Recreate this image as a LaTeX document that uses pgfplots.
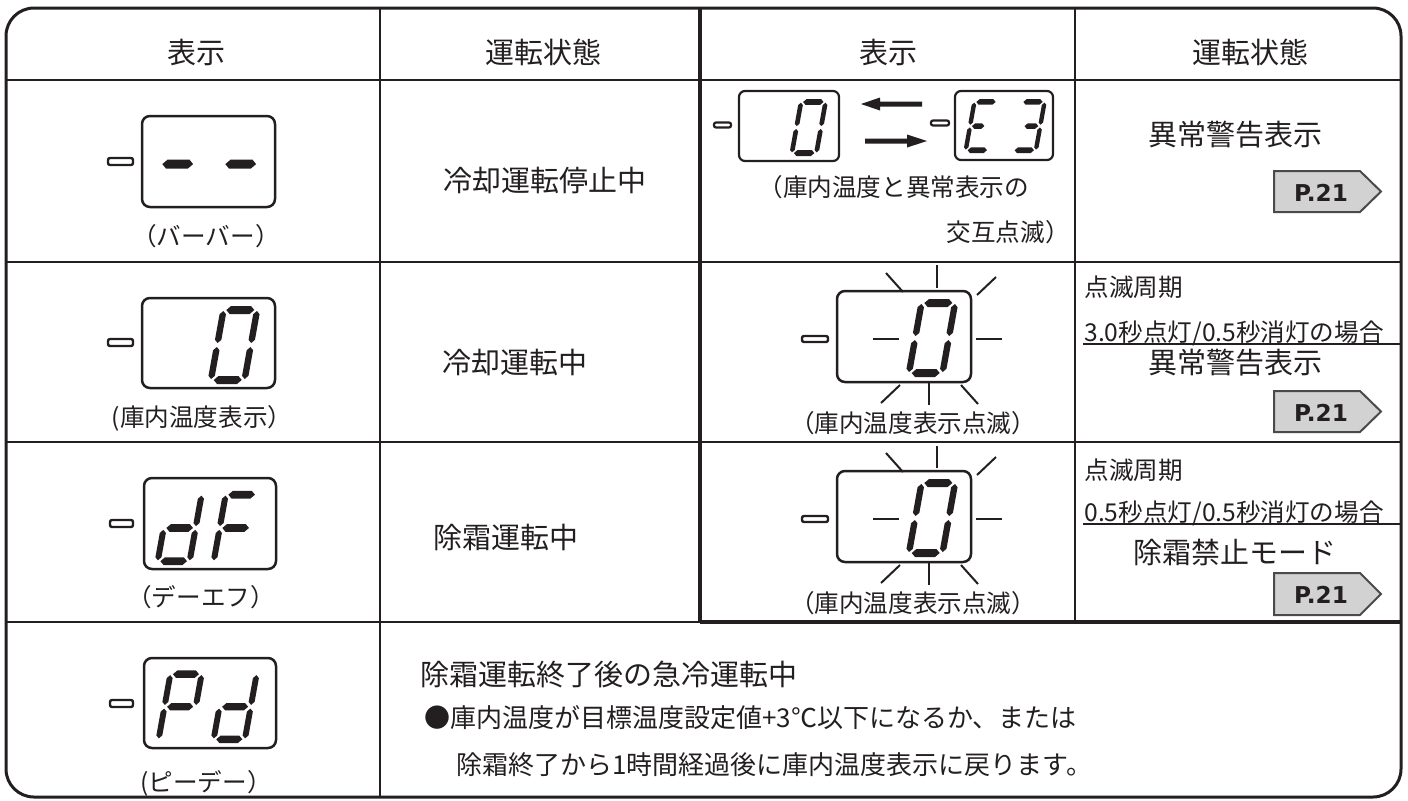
\documentclass[border=0pt]{standalone}
\usepackage{pgfplots}
\pgfplotsset{compat=1.18}
\usepackage{fontspec}
\setmainfont{Noto Sans CJK JP}
\newfontfamily\tagfont{DejaVu Sans}
\definecolor{ink}{HTML}{231F20}
\definecolor{tagfill}{HTML}{D2D2D2}
\definecolor{tagline}{HTML}{4A4A4A}
% point in a slanted seven-segment digit: OX OY S u v
\newcommand\Pt[5]{(axis cs:{#1+#3*((#4)+0.18*(#5))},{#2-#3*(#5)})}
\newcommand\hseg[6]{\fill[ink] \Pt{#1}{#2}{#3}{#4}{#6} -- \Pt{#1}{#2}{#3}{#4+4}{#6+4} -- \Pt{#1}{#2}{#3}{#5-4}{#6+4} -- \Pt{#1}{#2}{#3}{#5}{#6} -- \Pt{#1}{#2}{#3}{#5-4}{#6-4} -- \Pt{#1}{#2}{#3}{#4+4}{#6-4} -- cycle;}
\newcommand\vseg[6]{\fill[ink] \Pt{#1}{#2}{#3}{#4}{#6} -- \Pt{#1}{#2}{#3}{#4+3.2}{#6-3.2} -- \Pt{#1}{#2}{#3}{#4+3.2}{#5+3.2} -- \Pt{#1}{#2}{#3}{#4}{#5} -- \Pt{#1}{#2}{#3}{#4-3.2}{#5+3.2} -- \Pt{#1}{#2}{#3}{#4-3.2}{#6-3.2} -- cycle;}
\newcommand\SA[3]{\hseg{#1}{#2}{#3}{6}{34}{74}}
\newcommand\SB[3]{\vseg{#1}{#2}{#3}{36.8}{41}{73}}
\newcommand\SC[3]{\vseg{#1}{#2}{#3}{36.8}{5}{37}}
\newcommand\SD[3]{\hseg{#1}{#2}{#3}{6}{34}{4}}
\newcommand\SE[3]{\vseg{#1}{#2}{#3}{3.2}{5}{37}}
\newcommand\SF[3]{\vseg{#1}{#2}{#3}{3.2}{41}{73}}
\newcommand\SG[3]{\hseg{#1}{#2}{#3}{6}{34}{39}}
\newcommand\SGh[3]{\hseg{#1}{#2}{#3}{6}{24}{39}}
\newcommand\DZero[3]{\SA{#1}{#2}{#3}\SB{#1}{#2}{#3}\SC{#1}{#2}{#3}\SD{#1}{#2}{#3}\SE{#1}{#2}{#3}\SF{#1}{#2}{#3}}
\newcommand\Dd[3]{\SB{#1}{#2}{#3}\SC{#1}{#2}{#3}\SD{#1}{#2}{#3}\SE{#1}{#2}{#3}\SG{#1}{#2}{#3}}
\newcommand\DF[3]{\SA{#1}{#2}{#3}\SE{#1}{#2}{#3}\SF{#1}{#2}{#3}\SG{#1}{#2}{#3}}
\newcommand\DP[3]{\SA{#1}{#2}{#3}\SB{#1}{#2}{#3}\SE{#1}{#2}{#3}\SF{#1}{#2}{#3}\SG{#1}{#2}{#3}}
\newcommand\DE[3]{\SA{#1}{#2}{#3}\SD{#1}{#2}{#3}\SE{#1}{#2}{#3}\SF{#1}{#2}{#3}\SGh{#1}{#2}{#3}}
\newcommand\DThree[3]{\SA{#1}{#2}{#3}\SB{#1}{#2}{#3}\SC{#1}{#2}{#3}\SD{#1}{#2}{#3}\hseg{#1}{#2}{#3}{14}{34}{39}}
\newcommand\fbig{\fontsize{14.5}{17}\selectfont}
\newcommand\fmid{\fontsize{13}{15}\selectfont}
\newcommand\fsmall{\fontsize{12.3}{14}\selectfont}
\begin{document}
\begin{tikzpicture}
\begin{axis}[width=704pt, height=400pt, scale only axis,
  xmin=0, xmax=1408, ymin=0, ymax=800, y dir=reverse,
  hide axis, clip=false]
\path (axis cs:0,0) rectangle (axis cs:1408,800);
% ---------- grid ----------
\draw[ink, line width=1pt] (6,80) -- (1401,80);
\draw[ink, line width=1pt] (6,262) -- (1401,262);
\draw[ink, line width=1pt] (6,442) -- (1401,442);
\draw[ink, line width=1.1pt] (6,622) -- (700,622);
\draw[ink, line width=1.8pt] (700,622) -- (1401,622);
\draw[ink, line width=1pt] (380,8) -- (380,797);
\draw[ink, line width=1.8pt] (700,8) -- (700,623);
\draw[ink, line width=1pt] (1075,8) -- (1075,622);
\draw[ink, line width=1.5pt, rounded corners=14pt] (6,8) rectangle (1401,797);
% ---------- headers ----------
\node[font=\fbig, text=ink, inner sep=0] at (196,52) {表示};
\node[font=\fbig, text=ink, inner sep=0] at (543,52) {運転状態};
\node[font=\fbig, text=ink, inner sep=0] at (888,52) {表示};
\node[font=\fbig, text=ink, inner sep=0] at (1250,52) {運転状態};
% ---------- column 1 displays ----------
\draw[ink, line width=1.25pt, rounded corners=4pt] (142,116) rectangle (275,207);
\draw[ink, line width=1.2pt, rounded corners=1pt] (108,158) rectangle (133,165);
\SG{148}{207}{1.1}\SG{211}{207}{1.1}
\node[font=\fsmall, text=ink, inner sep=0] at (206,236) {（バーバー）};
\draw[ink, line width=1.25pt, rounded corners=4pt] (142,298) rectangle (275,388);
\draw[ink, line width=1.2pt, rounded corners=1pt] (108,339) rectangle (133,346);
\DZero{207}{384}{1}
\node[font=\fsmall, text=ink, inner sep=0] at (202,418) {(庫内温度表示）};
\draw[ink, line width=1.25pt, rounded corners=4pt] (144,478) rectangle (276,569);
\draw[ink, line width=1.2pt, rounded corners=1pt] (110,520) rectangle (133,527);
\Dd{154}{565}{0.95}\DF{210}{565}{0.95}
\node[font=\fsmall, text=ink, inner sep=0] at (201,597) {（デーエフ）};
\draw[ink, line width=1.25pt, rounded corners=4pt] (144,658) rectangle (276,748);
\draw[ink, line width=1.2pt, rounded corners=1pt] (110,700) rectangle (133,707);
\DP{155}{743}{0.93}\Dd{210}{743}{0.93}
\node[font=\fsmall, text=ink, inner sep=0] at (206,783) {(ピーデー）};
% ---------- column 2 ----------
\node[font=\fbig, text=ink, inner sep=0] at (545,180) {冷却運転停止中};
\node[font=\fbig, text=ink, inner sep=0, anchor=west] at (442,362) {冷却運転中};
\node[font=\fbig, text=ink, inner sep=0, anchor=west] at (433,537) {除霜運転中};
% ---------- column 3 row 1 ----------
\draw[ink, line width=1.1pt, rounded corners=3pt] (739,91) rectangle (839,161);
\draw[ink, line width=1.1pt, rounded corners=1pt] (714,122.5) rectangle (731,127.5);
\DZero{789}{156}{0.73}
\fill[ink] (861,104) -- (880,97.5) -- (880,101.5) -- (922,101.5) -- (922,106.5) -- (880,106.5) -- (880,110.5) -- cycle;
\fill[ink] (927,141) -- (907,134.5) -- (907,138.5) -- (865,138.5) -- (865,143.5) -- (907,143.5) -- (907,147.5) -- cycle;
\draw[ink, line width=1.1pt, rounded corners=3pt] (955,91) rectangle (1053,160);
\draw[ink, line width=1.1pt, rounded corners=1pt] (931,120.5) rectangle (949,125.5);
\DE{963}{153}{0.69}\DThree{1010}{153}{0.69}
\node[font=\fsmall, text=ink, inner sep=0, anchor=west] at (758,187) {（庫内温度と異常表示の};
\node[font=\fsmall, text=ink, inner sep=0, anchor=east] at (1070,232) {交互点滅）};
% ---------- column 3 rows 2 and 3 (blinking) ----------
\draw[ink, line width=1.25pt, rounded corners=4pt] (837,291) rectangle (971,382);
\draw[ink, line width=1.2pt, rounded corners=1pt] (802,336) rectangle (828,342);
\DZero{905}{377}{1}
\draw[ink, line width=1pt] (937,265) -- (937,288);
\draw[ink, line width=1pt] (886,273) -- (903,292);
\draw[ink, line width=1pt] (996,277) -- (977,295);
\draw[ink, line width=1pt] (873,339) -- (899,339);
\draw[ink, line width=1pt] (976,339) -- (1002,339);
\draw[ink, line width=1pt] (929,383) -- (929,405);
\draw[ink, line width=1pt] (900,385) -- (881,403);
\draw[ink, line width=1pt] (961,385) -- (978,404);
\node[font=\fsmall, text=ink, inner sep=0] at (913,423) {（庫内温度表示点滅）};
\draw[ink, line width=1.25pt, rounded corners=4pt] (837,471) rectangle (971,562);
\draw[ink, line width=1.2pt, rounded corners=1pt] (802,516) rectangle (828,522);
\DZero{905}{557}{1}
\draw[ink, line width=1pt] (937,446) -- (937,468);
\draw[ink, line width=1pt] (886,453) -- (903,472);
\draw[ink, line width=1pt] (996,457) -- (977,475);
\draw[ink, line width=1pt] (873,519) -- (899,519);
\draw[ink, line width=1pt] (976,519) -- (1002,519);
\draw[ink, line width=1pt] (929,563) -- (929,585);
\draw[ink, line width=1pt] (900,565) -- (881,583);
\draw[ink, line width=1pt] (961,565) -- (978,584);
\node[font=\fsmall, text=ink, inner sep=0] at (913,603) {（庫内温度表示点滅）};
% ---------- column 4 ----------
\node[font=\fbig, text=ink, inner sep=0] at (1235,135) {異常警告表示};
\draw[tagline, fill=tagfill, line width=1pt] (1274,171) -- (1360,171) -- (1381,191.5) -- (1360,212) -- (1274,212) -- cycle;
\node[font=\tagfont\bfseries\fontsize{11.6}{13}\selectfont, text=ink, inner sep=0] at (1321,193) {P.21};
\node[font=\fsmall, text=ink, inner sep=0, anchor=west] at (1084,287) {点滅周期};
\node[font=\fsmall, text=ink, inner sep=0, anchor=west] at (1084,333) {3.0秒点灯/0.5秒消灯の場合};
\draw[ink, line width=1pt] (1083,344) -- (1401,344);
\node[font=\fbig, text=ink, inner sep=0] at (1235,363) {異常警告表示};
\draw[tagline, fill=tagfill, line width=1pt] (1274,391) -- (1360,391) -- (1381,411.5) -- (1360,432) -- (1274,432) -- cycle;
\node[font=\tagfont\bfseries\fontsize{11.6}{13}\selectfont, text=ink, inner sep=0] at (1321,413) {P.21};
\node[font=\fsmall, text=ink, inner sep=0, anchor=west] at (1084,470) {点滅周期};
\node[font=\fsmall, text=ink, inner sep=0, anchor=west] at (1084,513) {0.5秒点灯/0.5秒消灯の場合};
\draw[ink, line width=1pt] (1083,524) -- (1401,524);
\node[font=\fbig, text=ink, inner sep=0] at (1235,552) {除霜禁止モード};
\draw[tagline, fill=tagfill, line width=1pt] (1274,573) -- (1360,573) -- (1381,594) -- (1360,615) -- (1274,615) -- cycle;
\node[font=\tagfont\bfseries\fontsize{11.6}{13}\selectfont, text=ink, inner sep=0] at (1321,595) {P.21};
% ---------- row 4 ----------
\node[font=\fbig, text=ink, inner sep=0, anchor=west] at (420,674) {除霜運転終了後の急冷運転中};
\node[font=\fmid, text=ink, inner sep=0, anchor=west] at (424,718) {●庫内温度が目標温度設定値+3℃以下になるか、または};
\node[font=\fmid, text=ink, inner sep=0, anchor=west] at (456,765) {除霜終了から1時間経過後に庫内温度表示に戻ります。};
\end{axis}
\end{tikzpicture}
\end{document}
